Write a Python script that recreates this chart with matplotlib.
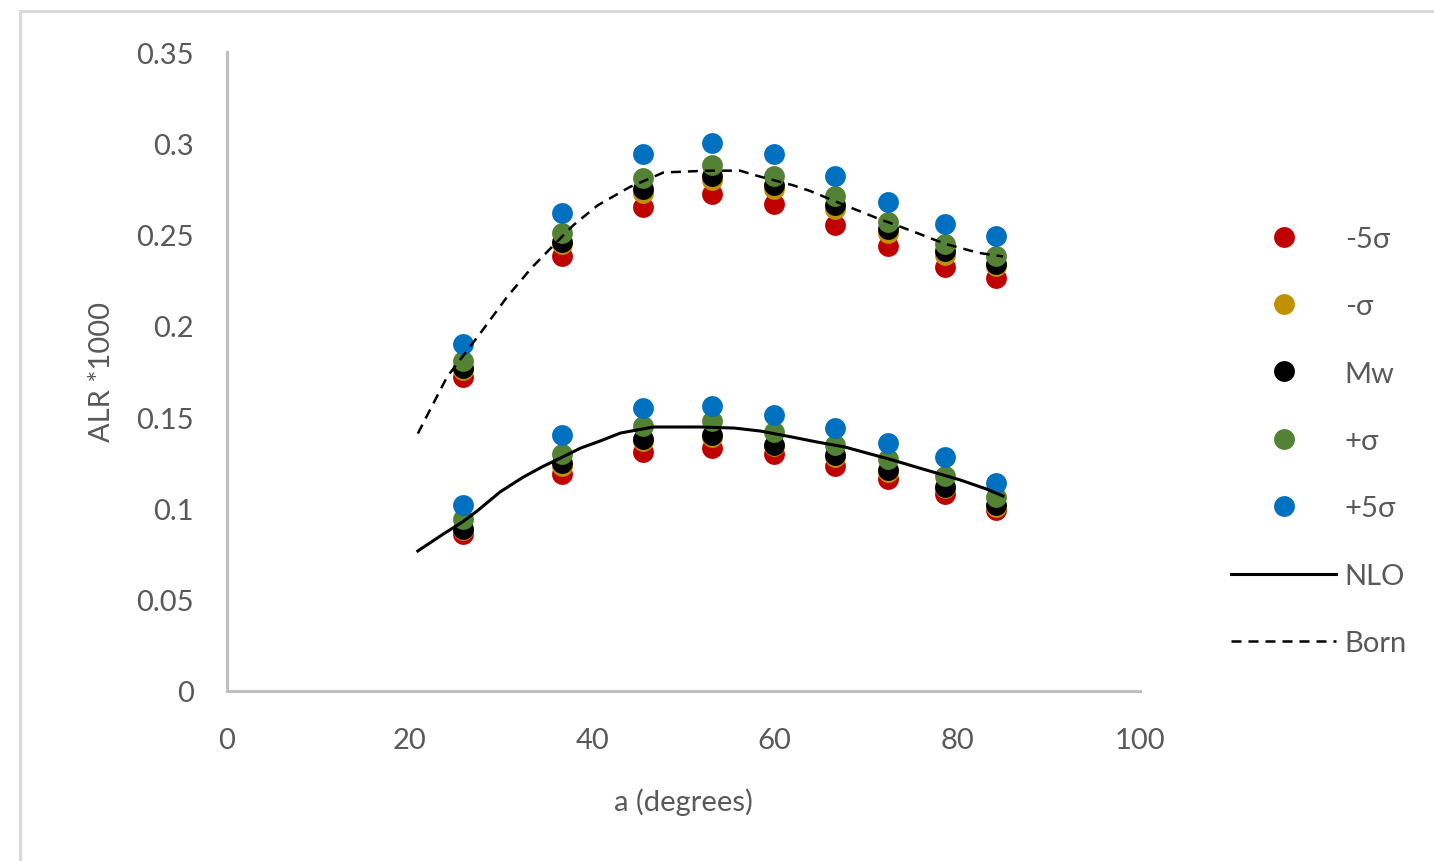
import matplotlib
matplotlib.use('Agg')
import matplotlib.pyplot as plt
from matplotlib.patches import Rectangle

plt.rcParams['font.family'] = ['Lato', 'DejaVu Sans']

# angle of the data points
angles = [25.9, 36.7, 45.6, 53.1, 59.9, 66.6, 72.4, 78.6, 84.2]

# upper group
up_m5s = [0.172, 0.238, 0.265, 0.272, 0.267, 0.255, 0.244, 0.232, 0.226]
up_m1s = [0.176, 0.245, 0.273, 0.280, 0.275, 0.264, 0.251, 0.239, 0.233]
up_mw = [0.177, 0.246, 0.275, 0.282, 0.277, 0.266, 0.253, 0.241, 0.234]
up_p1s = [0.181, 0.251, 0.281, 0.288, 0.282, 0.271, 0.257, 0.245, 0.238]
up_p5s = [0.190, 0.262, 0.294, 0.300, 0.294, 0.282, 0.268, 0.256, 0.249]

# lower group
lo_m5s = [0.086, 0.119, 0.131, 0.133, 0.130, 0.123, 0.116, 0.108, 0.099]
lo_m1s = [0.088, 0.123, 0.137, 0.139, 0.134, 0.128, 0.120, 0.111, 0.101]
lo_mw = [0.089, 0.125, 0.138, 0.140, 0.135, 0.129, 0.121, 0.112, 0.102]
lo_p1s = [0.094, 0.130, 0.145, 0.148, 0.142, 0.135, 0.127, 0.118, 0.106]
lo_p5s = [0.102, 0.140, 0.155, 0.156, 0.151, 0.144, 0.136, 0.128, 0.114]

# curves
nlo_x = [20.9, 23.7, 25.8, 27.4, 29.9, 32.4, 34.6, 36.7, 38.7, 40.9, 43.1, 46.7,
         51.8, 55.6, 58.4, 62.0, 64.6, 67.7, 72.9, 76.2, 80.3, 83.2, 85.0]
nlo_y = [0.0767, 0.086, 0.0926, 0.0986, 0.109, 0.117, 0.123, 0.128, 0.133, 0.137,
         0.1413, 0.1446, 0.1446, 0.144, 0.1424, 0.139, 0.1364, 0.1336, 0.1265,
         0.1216, 0.1156, 0.1106, 0.1068]
born_x = [20.9, 24.1, 27.9, 30.7, 33.4, 37.9, 40.6, 44.1, 47.8, 52.6, 56.2, 58.2,
          62.0, 63.8, 67.7, 71.2, 75.0, 78.6, 82.3, 85.0]
born_y = [0.141, 0.172, 0.197, 0.216, 0.232, 0.255, 0.266, 0.276, 0.284, 0.285,
          0.285, 0.282, 0.277, 0.274, 0.266, 0.259, 0.252, 0.245, 0.240, 0.238]

labels = ['-5σ', '-σ', 'Mw', '+σ', '+5σ']
colors = ['#C00000', '#BF9000', '#000000', '#548235', '#0070C0']
upper = [up_m5s, up_m1s, up_mw, up_p1s, up_p5s]
lower = [lo_m5s, lo_m1s, lo_mw, lo_p1s, lo_p5s]

txt = '#595959'
fs = 21

fig = plt.figure(figsize=(14.34, 8.62), dpi=100)
ax = fig.add_axes([227/1434, 1 - 692/862, (1140 - 227)/1434, (692 - 53)/862])

for lab, col, u, l in zip(labels, colors, upper, lower):
    ax.plot(angles, u, 'o', color=col, ms=15, mec='none', label=lab)
    ax.plot(angles, l, 'o', color=col, ms=15, mec='none')

ax.plot(nlo_x, nlo_y, color='black', lw=2.2, label='NLO')
ax.plot(born_x, born_y, color='black', lw=1.8, dashes=(4, 2.8), label='Born')

ax.set_xlim(0, 100)
ax.set_ylim(0, 0.35)
ax.set_xticks([0, 20, 40, 60, 80, 100])
ax.set_yticks([0, 0.05, 0.1, 0.15, 0.2, 0.25, 0.3, 0.35])
ax.set_yticklabels(['0', '0.05', '0.1', '0.15', '0.2', '0.25', '0.3', '0.35'])
ax.tick_params(length=0, labelsize=fs, labelcolor=txt)
ax.tick_params(axis='x', pad=26)
ax.tick_params(axis='y', pad=24)
for s in ['top', 'right']:
    ax.spines[s].set_visible(False)
for s in ['left', 'bottom']:
    ax.spines[s].set_color('#BFBFBF')
    ax.spines[s].set_linewidth(2.2)

ax.set_xlabel('a (degrees)', fontsize=fs, color=txt, labelpad=25)
ax.set_ylabel('ALR *1000', fontsize=fs, color=txt, labelpad=15)

ax.legend(loc='center left', bbox_to_anchor=(1231/1434, 1 - 442/862),
          bbox_transform=fig.transFigure, frameon=False, fontsize=fs,
          labelcolor=txt, handlelength=3.6, handletextpad=0.3,
          labelspacing=1.42, borderpad=0, borderaxespad=0)

fig.patches.append(Rectangle((20/1434, -0.1), 1.2, 1.1 - 12/862,
                             transform=fig.transFigure, fill=False,
                             edgecolor='#D9D9D9', lw=2.2))

fig.savefig('out.png', dpi=100)
